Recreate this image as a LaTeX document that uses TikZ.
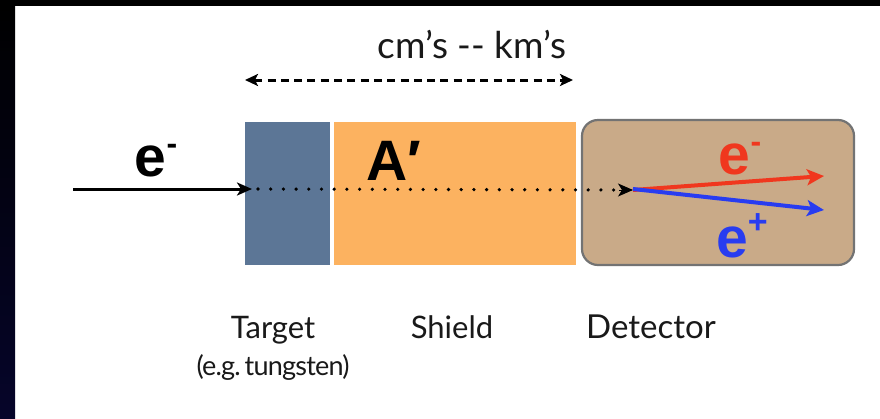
\documentclass[tikz,border=0pt]{standalone}
\usepackage{fontspec}
\setmainfont{Lato}
\newfontfamily\arialf{Liberation Sans}
\usetikzlibrary{arrows.meta}
\definecolor{tgtblue}{RGB}{92,118,150}
\definecolor{shieldor}{RGB}{252,178,96}
\definecolor{dettan}{RGB}{201,170,136}
\definecolor{detedge}{RGB}{115,115,115}
\definecolor{ered}{RGB}{240,55,30}
\definecolor{eblue}{RGB}{40,60,240}
\definecolor{navy}{RGB}{6,5,42}
\newcommand{\supmin}{\raisebox{22pt}{\fontsize{32}{32}\selectfont -}}
\newcommand{\supplus}{\raisebox{24pt}{\fontsize{34}{34}\selectfont +}}
\tikzset{
  slab/.style={draw=none, inner sep=0pt, minimum width=#1},
  lbl/.style={font=\fontsize{31}{34}\selectfont, text=black!90, inner sep=0pt, align=center},
  big/.style={font=\arialf\bfseries\fontsize{57}{60}\selectfont, inner sep=0pt},
  tip/.style={-{Stealth[length=15pt,width=13pt,inset=4pt]}},
}
\begin{document}
\begin{tikzpicture}[x=1pt,y=-1pt]
\useasboundingbox (0,0) rectangle (880,418);
\fill[black] (0,0) rectangle (880,418);
\fill[white] (15,6) rectangle (880,418);
\shade[top color=black, bottom color=navy] (0,6) rectangle (15,418);
% slabs
\node[slab=85pt, minimum height=143pt, fill=tgtblue] (target) at (287.5,193.5) {};
\node[slab=242pt, minimum height=143pt, fill=shieldor] (shield) at (455,193.5) {};
\node[slab=272pt, minimum height=145pt, fill=dettan, draw=detedge, line width=2.2pt, rounded corners=16pt] (det) at (718,192.5) {};
% top dimension
\node[lbl, font=\fontsize{37}{40}\selectfont, anchor=base] (span) at (472,58) {cm’s {-}{-} km’s};
\coordinate (dl) at (245,80);
\coordinate (dr) at (573,80);
\draw[line width=3pt, dash pattern=on 8pt off 5.3pt, {Stealth[length=13pt,width=12pt,inset=3pt]}-{Stealth[length=13pt,width=12pt,inset=3pt]}] (dl) -- (dr);
% incoming electron
\coordinate (ein) at (73,189);
\coordinate (hit) at (252,189);
\coordinate (vtx) at (633,190);
\coordinate (eout) at (824,176);
\coordinate (pout) at (824,210);
\draw[line width=3pt, tip] (ein) -- (hit);
\draw[line width=3.6pt, line cap=round, dash pattern=on 0pt off 12.7pt] ([xshift=6pt]hit) -- ([xshift=-12pt]vtx);
\draw[line width=1pt, tip] ([xshift=-14pt]vtx) -- (vtx);
\draw[ered, line width=4pt, -{Stealth[length=17pt,width=16pt,inset=4pt]}] (vtx) -- (eout);
\draw[eblue, line width=4pt, -{Stealth[length=17pt,width=16pt,inset=4pt]}] ([yshift=1pt]vtx) -- (pout);
% labels
\node[big, anchor=base] (elab) at (156,176) {e\supmin};
\node[big, anchor=base] (alab) at (394,180) {A′};
\node[big, anchor=base, text=ered] (emlab) at (740,174) {e\supmin};
\node[big, anchor=base, text=eblue] (eplab) at (742,257) {e\supplus};
\node[lbl, anchor=base] (tgtl) at (273,338) {Target};
\node[lbl, font=\fontsize{27}{30}\selectfont\addfontfeature{LetterSpace=-3}, anchor=base] (tgtl2) at (273,375) {(e.g.\hspace{4pt}tungsten)};
\node[lbl, anchor=base] (shl) at (452,338) {Shield};
\node[lbl, font=\fontsize{33}{36}\selectfont, anchor=base] (detl) at (651,338) {Detector};
\end{tikzpicture}
\end{document}
